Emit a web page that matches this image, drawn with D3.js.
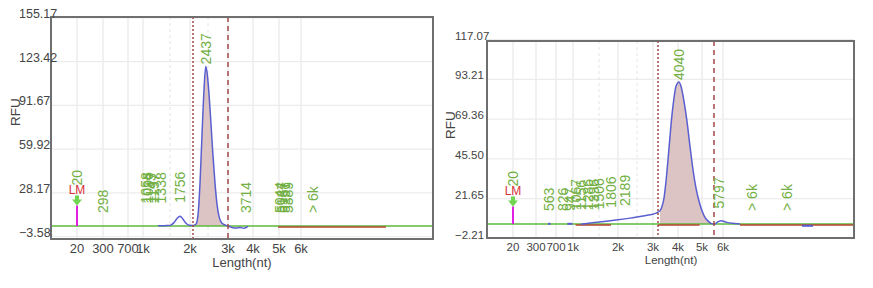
<!DOCTYPE html>
<html>
<head>
<meta charset="utf-8">
<script src="https://cdn.jsdelivr.net/npm/d3@7"></script>
<style>
body{margin:0;background:#fff;}
text{font-family:"Liberation Sans",Arial,sans-serif;}
</style>
</head>
<body>
<script>
function ready(fn) {
  if (document.readyState != 'loading'){
    fn();
  } else {
    document.addEventListener('DOMContentLoaded', fn);
  }
}

ready(init);

// sizing ladder (nt) shared by both runs
var ladder = [0, 20, 300, 700, 1000, 1500, 2000, 2500, 3000, 4000, 5000, 6000, 12000];
var xTicks = [20, 300, 700, 1000, 2000, 3000, 4000, 5000, 6000];
var xTickLabels = ["20", "300", "700", "1k", "2k", "3k", "4k", "5k", "6k"];
var minorTicks = [1500, 2500];

// left run
var leftYTicks = [-3.58, 28.17, 59.92, 91.67, 123.42, 155.17];
var leftBaseline = 4;
var leftLM = [20, 19];
var leftTrace = [[1278,4.2],[1407,4.3],[1500,4.5],[1600,6.5],[1675,9.5],[1750,11.2],[1825,9],[1900,6],[1975,4.6],
  [2083,4.5],[2167,5.5],[2222,12],[2278,35],[2333,70],[2389,103],[2437,120],[2472,116],[2525,100],[2575,78],
  [2625,55],[2675,35],[2725,20],[2775,11],[2850,6],[2950,4.5],[3000,4],[3160,3.0],[3320,2.6],[3480,3.0],
  [3640,2.4],[3800,3.8]];
var leftRegion = [2083, 3000];
var leftBrown = [[4960, 9860]];
var leftPeakSizes = [298, 1058, 1096, 1143, 1197, 1338, 1756, 2437, 3714, 5044, 5137, 5251, 5389, 6546];
var leftPeakHeights = [4, 11, 11, 11, 11, 11, 11.5, 120, 4, 4, 4, 4, 4, 4];

// right run
var rightYTicks = [-2.21, 21.65, 45.50, 69.36, 93.21, 117.07];
var rightBaseline = 6.5;
var rightLM = [20, 17];
var rightTrace = [[1150,6.4],[1300,7.0],[1640,8.0],[2000,9.0],[2315,10.0],[2594,11.0],[2906,12.0],
  [3120,13.0],[3280,14.5],[3360,17],[3440,22],[3520,32],[3600,45],[3680,59],[3760,72],[3840,82],[3920,89],
  [4040,91.6],[4125,89],[4250,80],[4375,68],[4500,53],[4625,39],[4750,28],[4917,18],[5095,11.5],[5285,8.2],
  [5571,6.3],[5762,7.8],[5905,8.4],[6137,7.6],[6412,6.9],[6779,6.5]];
var rightDots = [[[540,6.6],[590,6.6]], [[900,6.6],[990,6.6]], [[9618,5.4],[10122,5.4]]];
var rightRegion = [3200, 5571];
var rightBrown = [[1050, 1815], [3200, 4900], [6780, 12000]];
var rightPeakSizes = [563, 826, 947, 1067, 1156, 1286, 1396, 1506, 1806, 2189, 4040, 5797, 7330, 8940];
var rightPeakHeights = [6.5, 6.5, 6.5, 7, 7, 7, 7, 7.5, 8.5, 9.5, 91.6, 8, 6.5, 6.5];


function init(){

  var w = 873, h = 288;

  var svg = d3.select("body")
              .append("svg")
              .attr("width", w)
              .attr("height", h);

  drawPanel(svg, {
    box: [51, 17, 433, 239],
    xr: [51, 77, 103, 128, 143, 170, 190, 208, 228, 253, 279, 301, 433],
    yr: [236.5, 18],
    yLabelX: 19, yfs: 12.5, fs: 13, tickY: 253, titleX: 242, titleY: 267, rfuX: 15, rfuY: 112,
    yTicks: leftYTicks, base: leftBaseline, lm: leftLM, trace: leftTrace, dots: [],
    region: leftRegion, brown: leftBrown, sizes: leftPeakSizes, heights: leftPeakHeights
  });

  drawPanel(svg, {
    box: [487, 41, 854, 238],
    xr: [487, 513, 536, 556, 573, 599, 618, 637, 653, 678, 702, 723, 854],
    yr: [238.5, 39.5],
    yLabelX: 455, yfs: 11.5, fs: 11.5, tickY: 250.5, titleX: 671, titleY: 263.5, rfuX: 450, rfuY: 125,
    yTicks: rightYTicks, base: rightBaseline, lm: rightLM, trace: rightTrace, dots: rightDots,
    region: rightRegion, brown: rightBrown, sizes: rightPeakSizes, heights: rightPeakHeights
  });

}//init


function drawPanel(svg, p){

  var x = d3.scaleLinear().domain(ladder).range(p.xr);
  var y = d3.scaleLinear().domain([p.yTicks[0], p.yTicks[p.yTicks.length-1]]).range(p.yr);

  var g = svg.append("g");
  var bx0 = p.box[0], by0 = p.box[1], bx1 = p.box[2], by1 = p.box[3];

  // grid
  g.selectAll(".hgrid").data(p.yTicks).enter().append("line")
      .attr("x1", bx0).attr("x2", bx1)
      .attr("y1", d => y(d)).attr("y2", d => y(d))
      .attr("stroke", "#ececec").attr("stroke-width", 1.2);

  g.selectAll(".vgrid").data(xTicks).enter().append("line")
      .attr("x1", d => x(d)).attr("x2", d => x(d))
      .attr("y1", by0).attr("y2", by1)
      .attr("stroke", "#ececec").attr("stroke-width", 1.5);

  g.selectAll(".mgrid").data(minorTicks).enter().append("line")
      .attr("x1", d => x(d)).attr("x2", d => x(d))
      .attr("y1", by0).attr("y2", by1)
      .attr("stroke", "#e4e4e4").attr("stroke-dasharray", "3,3");

  // shaded region under main peak
  var inRegion = p.trace.filter(d => d[0] >= p.region[0] && d[0] <= p.region[1]);
  var area = d3.area()
      .x(d => x(d[0]))
      .y0(y(p.base))
      .y1(d => y(Math.max(d[1], p.base)))
      .curve(d3.curveMonotoneX);
  g.append("path")
      .datum(inRegion)
      .attr("d", area)
      .attr("fill", "#dcc4c4");

  // baseline
  g.append("line")
      .attr("x1", bx0).attr("x2", bx1)
      .attr("y1", y(p.base)).attr("y2", y(p.base))
      .attr("stroke", "#5cb83c").attr("stroke-width", 1.5);

  g.selectAll(".brown").data(p.brown).enter().append("line")
      .attr("x1", d => x(d[0])).attr("x2", d => x(d[1]))
      .attr("y1", y(p.base) + 1).attr("y2", y(p.base) + 1)
      .attr("stroke", "#b5452e").attr("stroke-width", 1.6);

  // trace
  var line = d3.line()
      .x(d => x(d[0]))
      .y(d => y(d[1]))
      .curve(d3.curveMonotoneX);

  g.append("path")
      .datum(p.trace)
      .attr("d", line)
      .attr("fill", "none")
      .attr("stroke", "#5a5fd0")
      .attr("stroke-width", 1.5);

  g.selectAll(".dot").data(p.dots).enter().append("path")
      .attr("d", line)
      .attr("fill", "none")
      .attr("stroke", "#5a5fd0")
      .attr("stroke-width", 2);

  // region markers
  g.append("line")
      .attr("x1", x(p.region[0])).attr("x2", x(p.region[0]))
      .attr("y1", by0).attr("y2", by1)
      .attr("stroke", "#a34a4a").attr("stroke-width", 1.5)
      .attr("stroke-dasharray", "2,2");
  g.append("line")
      .attr("x1", x(p.region[1])).attr("x2", x(p.region[1]))
      .attr("y1", by0).attr("y2", by1)
      .attr("stroke", "#a34a4a").attr("stroke-width", 1.5)
      .attr("stroke-dasharray", "5,4");

  // lower marker
  var lmX = x(p.lm[0]), lmTop = y(p.lm[1]);
  g.append("line")
      .attr("x1", lmX).attr("x2", lmX)
      .attr("y1", y(p.base)).attr("y2", lmTop)
      .attr("stroke", "#e020e0").attr("stroke-width", 2);
  g.append("path")
      .attr("d", "M" + (lmX-2) + "," + (lmTop-10) + "h4v4h3l-5,6l-5,-6h3z")
      .attr("fill", "#6fd44f");
  g.append("text")
      .attr("x", lmX).attr("y", lmTop - 11)
      .attr("text-anchor", "middle")
      .style("font-size", "12px")
      .attr("fill", "#d8333a")
      .text("LM");
  g.append("text")
      .attr("transform", "translate(" + (lmX + 5) + "," + (lmTop - 20) + ") rotate(-90)")
      .style("font-size", "14px")
      .attr("fill", "#72b043")
      .text(p.lm[0]);

  // peak labels
  g.selectAll(".plabel").data(p.sizes).enter().append("text")
      .attr("transform", (d, i) => {
        var hh = p.heights[i];
        var off = hh > 50 ? 2 : 13;
        return "translate(" + (x(d) + 5) + "," + (y(hh) - off) + ") rotate(-90)";
      })
      .style("font-size", "14px")
      .attr("fill", "#72b043")
      .text(d => d > 6000 ? "> 6k" : d);

  // frame
  g.append("rect")
      .attr("x", bx0).attr("y", by0)
      .attr("width", bx1 - bx0).attr("height", by1 - by0)
      .attr("fill", "none")
      .attr("stroke", "#6f6f6f").attr("stroke-width", 2);

  // tick labels
  g.selectAll(".ylab").data(p.yTicks).enter().append("text")
      .attr("x", p.yLabelX).attr("y", d => y(d))
      .style("font-size", p.yfs + "px")
      .attr("fill", "#444")
      .text(d => d3.format(".2f")(d));

  g.selectAll(".xlab").data(xTicks).enter().append("text")
      .attr("x", d => x(d)).attr("y", p.tickY)
      .attr("text-anchor", "middle")
      .style("font-size", p.fs + "px")
      .attr("fill", "#444")
      .text((d, i) => xTickLabels[i]);

  g.append("text")
      .attr("x", p.titleX).attr("y", p.titleY)
      .attr("text-anchor", "middle")
      .style("font-size", p.fs + "px")
      .attr("fill", "#444")
      .text("Length(nt)");

  g.append("text")
      .attr("transform", "translate(" + p.rfuX + "," + p.rfuY + ") rotate(-90)")
      .attr("text-anchor", "middle")
      .attr("dy", "0.35em")
      .style("font-size", "13.5px")
      .attr("fill", "#444")
      .text("RFU");
}
</script>
</body>
</html>
